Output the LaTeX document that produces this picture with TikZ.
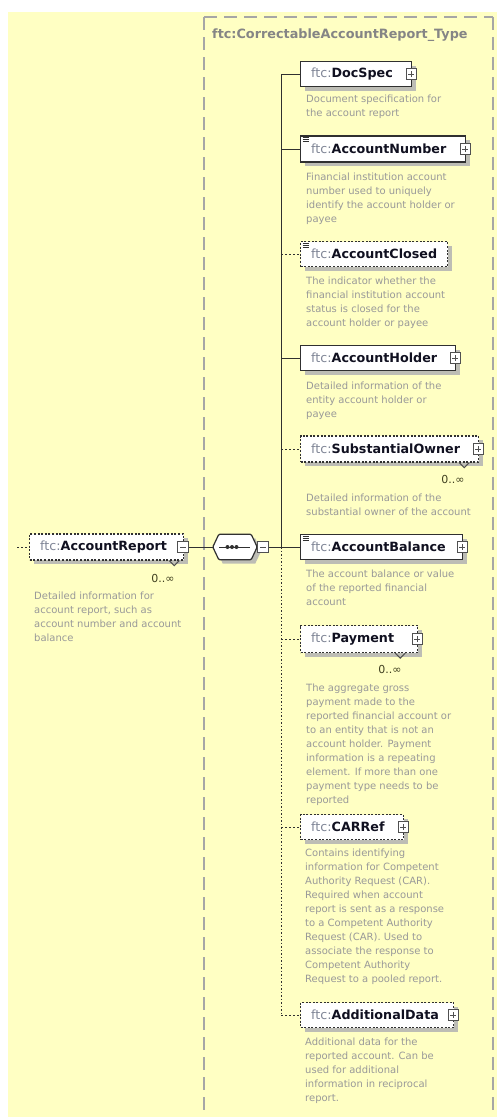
\documentclass[tikz,border=0pt]{standalone}
\usepackage{fontspec}
\setmainfont{DejaVu Sans}
\usetikzlibrary{shadows}
\definecolor{bgc}{HTML}{FFFFC3}
\definecolor{typec}{HTML}{A6A6A6}
\definecolor{typetextc}{HTML}{858585}
\definecolor{boxc}{HTML}{303030}
\definecolor{shadowc}{HTML}{BDBDB5}
\definecolor{descc}{HTML}{999999}
\definecolor{prefixc}{HTML}{7F8596}
\definecolor{namec}{HTML}{101020}
\definecolor{occc}{HTML}{404020}
\definecolor{iconc}{HTML}{505050}
\newcommand\ftcpre{{\mdseries\color{prefixc}ftc:}}
\begin{document}
\begin{tikzpicture}[x=1pt,y=-1pt,
  elreq/.style={draw=boxc, line width=1.2pt, fill=white, minimum height=25pt, inner sep=0pt, anchor=west,
    drop shadow={shadow xshift=4pt, shadow yshift=-4pt, fill=shadowc, opacity=1}},
  elopt/.style={elreq, dash pattern=on 2pt off 1.6pt},
  elname/.style={anchor=west, inner sep=0pt, text=namec, font=\bfseries\fontsize{12.7}{14}\selectfont},
  desc/.style={anchor=north west, inner sep=0pt, align=left, text=descc, font=\fontsize{10}{14}\selectfont},
  occ/.style={inner sep=0pt, text=occc, font=\fontsize{11}{13}\selectfont},
  plusicon/.style={draw=iconc, line width=0.8pt, fill=white, minimum size=10.5pt, inner sep=0pt,
    path picture={\draw[iconc, line width=0.9pt] ([xshift=-3.2pt]path picture bounding box.center) -- ([xshift=3.2pt]path picture bounding box.center)
      ([yshift=-3.2pt]path picture bounding box.center) -- ([yshift=3.2pt]path picture bounding box.center);}},
  minusicon/.style={draw=iconc, line width=0.8pt, fill=white, minimum size=11pt, inner sep=0pt,
    path picture={\draw[iconc, line width=0.9pt] ([xshift=-3.2pt]path picture bounding box.center) -- ([xshift=3.2pt]path picture bounding box.center);}},
  conn/.style={draw=boxc, line width=1pt},
  dconn/.style={draw=boxc, line width=1pt, dash pattern=on 2pt off 2pt},
  spinedot/.style={draw=boxc, line width=1pt, dash pattern=on 1.5pt off 2pt},
  typeline/.style={draw=typec, line width=1.4pt, dash pattern=on 13pt off 7pt},
  chev/.style={draw=iconc, line width=1pt},
  simplemark/.style={draw=boxc, line width=0.7pt}
]
\useasboundingbox (0,0) rectangle (500,1117);
\fill[bgc] (8,12) rectangle (497,1117);
% type box
\coordinate (tl) at (204,17);
\coordinate (tr) at (493,17);
\coordinate (bl) at (204,1117);
\coordinate (br) at (493,1117);
\draw[typeline] (tl) -- (tr);
\draw[typeline] (tl) -- (bl);
\draw[typeline] (tr) -- (br);
\node[anchor=west, inner sep=0pt, text=typetextc, font=\bfseries\fontsize{12.8}{15}\selectfont] (typelabel) at (212,35) {ftc:CorrectableAccountReport\_Type};

\coordinate (sp) at (281,0);

% AccountReport
\coordinate (lstub) at (17,547);
\node[elopt, minimum width=154pt, minimum height=26pt] (arep) at (29,547) {};
\draw[dconn] (lstub) -- (arep.west);
\node[elname] (arep-t) at ([xshift=11pt]arep.west) {\ftcpre AccountReport};
\node[minusicon] (arep-i) at ([xshift=-1pt]arep.east) {};
\draw[chev] ([xshift=-15pt]arep.south east) -- ++(5,5) -- ++(5,-5);
\node[occ] (arep-o) at (163,578) {0..∞};
\node[desc] (arep-d) at (34,592) {Detailed information for\\account report, such as\\account number and account\\balance};

% sequence compositor (octagon drawn around a named node)
\node[minimum width=44pt, minimum height=25pt, inner sep=0pt] (seq) at (235,547) {};
\fill[shadowc] ([shift={(4pt,-4pt)}]seq.west) -- ([shift={(10pt,-4pt)}]seq.north west) -- ([shift={(-2pt,-4pt)}]seq.north east) -- ([shift={(4pt,-4pt)}]seq.east)
  -- ([shift={(-2pt,-4pt)}]seq.south east) -- ([shift={(10pt,-4pt)}]seq.south west) -- cycle;
\draw[boxc, line width=1.2pt, fill=white, rounded corners=1pt] (seq.west) -- ([xshift=6pt]seq.north west) -- ([xshift=-6pt]seq.north east) -- (seq.east)
  -- ([xshift=-6pt]seq.south east) -- ([xshift=6pt]seq.south west) -- cycle;
\draw[boxc, line width=1pt] ([xshift=-16pt]seq.center) -- ([xshift=15pt]seq.center);
\foreach \dx in {-7.5,-3,1.5} \fill[boxc] ([xshift=\dx pt]seq.center) circle (2pt);
\node[minusicon, anchor=west] (seq-i) at (seq.east) {};
\draw[conn] (arep-i.east) -- (seq.west);
\draw[conn] (seq-i.east) -- (seq-i.east -| sp);

% DocSpec
\node[elreq, minimum width=111pt] (docspec) at (300,74) {};
\node[elname] (docspec-t) at ([xshift=11pt]docspec.west) {\ftcpre DocSpec};
\node[plusicon] (docspec-i) at ([xshift=-1pt]docspec.east) {};
\node[desc] (docspec-d) at (306,95) {Document specification for\\the account report};

% AccountNumber
\node[elreq, minimum width=165pt, minimum height=26pt] (accnum) at (300,149) {};
\node[elname] (accnum-t) at ([xshift=11pt]accnum.west) {\ftcpre AccountNumber};
\node[plusicon] (accnum-i) at ([xshift=-1pt]accnum.east) {};
\draw[simplemark] ([shift={(2.5pt,-2pt)}]accnum.north west) -- ++(6,0) ([shift={(2.5pt,-4pt)}]accnum.north west) -- ++(6,0) ([shift={(2.5pt,-6pt)}]accnum.north west) -- ++(6,0);
\node[desc] (accnum-d) at (306,173) {Financial institution account\\number used to uniquely\\identify the account holder or\\payee};

% AccountClosed
\node[elopt, minimum width=147pt] (acccl) at (300,254) {};
\node[elname] (acccl-t) at ([xshift=11pt]acccl.west) {\ftcpre AccountClosed};
\draw[simplemark] ([shift={(2.5pt,-2pt)}]acccl.north west) -- ++(6,0) ([shift={(2.5pt,-4pt)}]acccl.north west) -- ++(6,0) ([shift={(2.5pt,-6pt)}]acccl.north west) -- ++(6,0);
\node[desc] (acccl-d) at (306,277) {The indicator whether the\\financial institution account\\status is closed for the\\account holder or payee};

% AccountHolder
\node[elreq, minimum width=155pt] (acchold) at (300,358) {};
\node[elname] (acchold-t) at ([xshift=11pt]acchold.west) {\ftcpre AccountHolder};
\node[plusicon] (acchold-i) at ([xshift=-1pt]acchold.east) {};
\node[desc] (acchold-d) at (306,382) {Detailed information of the\\entity account holder or\\payee};

% SubstantialOwner
\node[elopt, minimum width=178pt, minimum height=26pt] (subown) at (300,449) {};
\node[elname] (subown-t) at ([xshift=11pt]subown.west) {\ftcpre SubstantialOwner};
\node[plusicon] (subown-i) at ([xshift=-1pt]subown.east) {};
\draw[chev] ([xshift=-20pt]subown.south east) -- ++(5,5) -- ++(5,-5);
\node[occ] (subown-o) at (453,479) {0..∞};
\node[desc] (subown-d) at (306,494) {Detailed information of the\\substantial owner of the account};

% AccountBalance
\node[elreq, minimum width=162pt] (accbal) at (300,547) {};
\node[elname] (accbal-t) at ([xshift=11pt]accbal.west) {\ftcpre AccountBalance};
\node[plusicon] (accbal-i) at ([xshift=-1pt]accbal.east) {};
\draw[simplemark] ([shift={(2.5pt,-2pt)}]accbal.north west) -- ++(6,0) ([shift={(2.5pt,-4pt)}]accbal.north west) -- ++(6,0) ([shift={(2.5pt,-6pt)}]accbal.north west) -- ++(6,0);
\node[desc] (accbal-d) at (306,570) {The account balance or value\\of the reported financial\\account};

% Payment
\node[elopt, minimum width=117pt, minimum height=27pt] (pay) at (300,639) {};
\node[elname] (pay-t) at ([xshift=11pt]pay.west) {\ftcpre Payment};
\node[plusicon] (pay-i) at ([xshift=-1pt]pay.east) {};
\draw[chev] ([xshift=-23pt]pay.south east) -- ++(5,5) -- ++(5,-5);
\node[occ] (pay-o) at (390,669) {0..∞};
\node[desc] (pay-d) at (306,684) {The aggregate gross\\payment made to the\\reported financial account or\\to an entity that is not an\\account holder. Payment\\information is a repeating\\element. If more than one\\payment type needs to be\\reported};

% CARRef
\node[elopt, minimum width=103pt] (carref) at (300,827) {};
\node[elname] (carref-t) at ([xshift=11pt]carref.west) {\ftcpre CARRef};
\node[plusicon] (carref-i) at ([xshift=-1pt]carref.east) {};
\node[desc] (carref-d) at (305,849) {Contains identifying\\information for Competent\\Authority Request (CAR).\\Required when account\\report is sent as a response\\to a Competent Authority\\Request (CAR). Used to\\associate the response to\\Competent Authority\\Request to a pooled report.};

% AdditionalData
\node[elopt, minimum width=153pt] (adddata) at (300,1015) {};
\node[elname] (adddata-t) at ([xshift=11pt]adddata.west) {\ftcpre AdditionalData};
\node[plusicon] (adddata-i) at ([xshift=-1pt]adddata.east) {};
\node[desc] (adddata-d) at (305,1038) {Additional data for the\\reported account. Can be\\used for additional\\information in reciprocal\\report.};

% spine and connectors
\draw[conn] (docspec.west -| sp) -- (accbal.west -| sp);
\draw[spinedot] (accbal.west -| sp) -- (adddata.west -| sp);
\draw[conn] (docspec.west -| sp) -- (docspec.west);
\draw[conn] (accnum.west -| sp) -- (accnum.west);
\draw[dconn] (acccl.west -| sp) -- (acccl.west);
\draw[conn] (acchold.west -| sp) -- (acchold.west);
\draw[dconn] (subown.west -| sp) -- (subown.west);
\draw[conn] (accbal.west -| sp) -- (accbal.west);
\draw[dconn] (pay.west -| sp) -- (pay.west);
\draw[dconn] (carref.west -| sp) -- (carref.west);
\draw[dconn] (adddata.west -| sp) -- (adddata.west);
\end{tikzpicture}
\end{document}
